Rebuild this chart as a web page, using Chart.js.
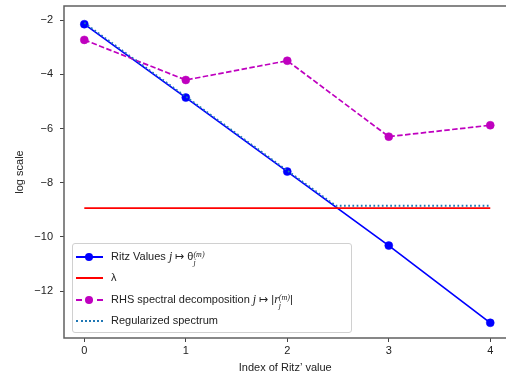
<!DOCTYPE html>
<html>
<head>
<meta charset="utf-8">
<script src="https://cdn.jsdelivr.net/npm/chart.js@4.4.0/dist/chart.umd.min.js"></script>
<style>
  html, body { margin: 0; padding: 0; background: #fff; overflow: hidden; }
  #wrap { position: relative; width: 506px; height: 379px; overflow: hidden; }
  #legend {
    position: absolute; left: 72px; top: 243px; width: 278px; height: 88px;
    border: 1px solid #d0d0d0; border-radius: 3px; background: rgba(255,255,255,0.85);
    font-family: "Liberation Sans", Arial, sans-serif; font-size: 11px; color: #222;
  }
  .row { position: absolute; left: 0; height: 0; }
  .sample { position: absolute; left: 3px; width: 27px; top: -1px; height: 0; }
  .dot { position: absolute; left: 9px; top: -4px; width: 8px; height: 8px; border-radius: 50%; }
  .txt { position: absolute; left: 38px; top: -7px; white-space: nowrap; line-height: 13px; }
  .m { font-family: "Liberation Serif", "DejaVu Serif", serif; font-style: italic; font-size: 12px; }
  .ss { display: inline-block; vertical-align: -5px; font-family: "Liberation Serif", serif; font-style: italic; font-size: 8px; line-height: 8px; }
  .ss span { display: block; }
</style>
</head>
<body>
<div id="wrap">
  <canvas id="myChart" width="511" height="379"></canvas>
  <div id="legend">
    <div class="row" style="top:13px">
      <span class="sample" style="border-top:2px solid #0000ff"></span>
      <span class="dot" style="background:#0000ff;left:12px"></span>
      <span class="txt">Ritz Values <span class="m">j</span> ↦ θ<span class="ss"><span>(m)</span><span>j</span></span></span>
    </div>
    <div class="row" style="top:34px">
      <span class="sample" style="border-top:2px solid #ff0000"></span>
      <span class="txt">λ</span>
    </div>
    <div class="row" style="top:56px">
      <span class="sample" style="border-top:2px dashed #bf00bf"></span>
      <span class="dot" style="background:#bf00bf;left:12px"></span>
      <span class="txt">RHS spectral decomposition <span class="m">j</span> ↦ |<span class="m">r</span><span class="ss"><span>(m)</span><span>j</span></span>|</span>
    </div>
    <div class="row" style="top:77px">
      <span class="sample" style="border-top:2px dotted #1f77b4"></span>
      <span class="txt">Regularized spectrum</span>
    </div>
  </div>
</div>
<script>
const indexes = [0, 1, 2, 3, 4];
const ritzValues = [-2.15, -4.86, -7.59, -10.32, -13.17];
const rhsValues = [-2.73, -4.21, -3.50, -6.30, -5.88];
const lambdaX = [0, 4];
const lambdaValues = [-8.94, -8.94];
const regX = [0, 1, 2, 2.48, 3, 4];
const regValues = [-2.10, -4.82, -7.55, -8.85, -8.85, -8.85];
const xTicks = [0, 1, 2, 3, 4];
const yTicks = [-12, -10, -8, -6, -4, -2];

const toPoints = (xs, ys) => xs.map((x, i) => ({ x: x, y: ys[i] }));

// matplotlib-like box, right side falls outside the crop
const frame = {
  id: "frame",
  afterDraw(chart) {
    const { ctx, chartArea: a } = chart;
    ctx.save();
    ctx.strokeStyle = "#606060";
    ctx.lineWidth = 1.5;
    ctx.beginPath();
    ctx.moveTo(a.right + 4, a.top);
    ctx.lineTo(a.left, a.top);
    ctx.lineTo(a.left, a.bottom);
    ctx.lineTo(a.right + 4, a.bottom);
    ctx.stroke();
    ctx.restore();
  },
};

const font = { family: "'Liberation Sans', Arial, sans-serif", size: 11 };

const config = {
  type: "line",
  data: {
    datasets: [
      {
        label: "Ritz Values",
        data: toPoints(indexes, ritzValues),
        borderColor: "#0000ff",
        backgroundColor: "#0000ff",
        borderWidth: 1.7,
        pointRadius: 4,
        pointBorderWidth: 0.5,
        order: 3,
      },
      {
        label: "λ",
        data: toPoints(lambdaX, lambdaValues),
        borderColor: "#ff0000",
        borderWidth: 1.7,
        pointRadius: 0,
        order: 2,
      },
      {
        label: "RHS spectral decomposition",
        data: toPoints(indexes, rhsValues),
        borderColor: "#bf00bf",
        backgroundColor: "#bf00bf",
        borderWidth: 1.7,
        borderDash: [5.5, 2.4],
        pointRadius: 4,
        pointBorderWidth: 0.5,
        order: 1,
      },
      {
        label: "Regularized spectrum",
        data: toPoints(regX, regValues),
        borderColor: "#1f77b4",
        borderWidth: 1.8,
        borderDash: [1.7, 2.5],
        pointRadius: 0,
        order: 0,
      },
    ],
  },
  options: {
    responsive: false,
    animation: false,
    devicePixelRatio: 1,
    layout: { padding: { top: 6, left: 0, right: 0, bottom: 0 } },
    plugins: { legend: { display: false }, tooltip: { enabled: false } },
    scales: {
      x: {
        type: "linear",
        min: -0.2,
        max: 4.16,
        afterBuildTicks: (s) => { s.ticks = xTicks.map((v) => ({ value: v })); },
        afterFit: (s) => { s.height = 41; s.paddingLeft = 0; s.paddingRight = 0; },
        grid: { drawOnChartArea: false, tickLength: 4, color: "#444", lineWidth: 1 },
        border: { display: false },
        ticks: { font: font, color: "#222", padding: 2, maxRotation: 0 },
        title: { display: true, text: "Index of Ritz’ value", font: font, color: "#222", padding: { top: 0, bottom: 4 } },
      },
      y: {
        min: -13.73,
        max: -1.48,
        afterBuildTicks: (s) => { s.ticks = yTicks.map((v) => ({ value: v })); },
        afterFit: (s) => { s.width = 64; s.paddingTop = 0; s.paddingBottom = 0; },
        grid: { drawOnChartArea: false, tickLength: 4, color: "#444", lineWidth: 1 },
        border: { display: false },
        ticks: {
          font: font,
          color: "#222",
          padding: 7,
          callback: (v) => (v < 0 ? "\u2212" + Math.abs(v) : String(v)),
        },
        title: { display: true, text: "log scale", font: font, color: "#222", padding: { top: 13, bottom: 0 } },
      },
    },
  },
  plugins: [frame],
};

const myChart = new Chart(document.getElementById("myChart"), config);
</script>
</body>
</html>
